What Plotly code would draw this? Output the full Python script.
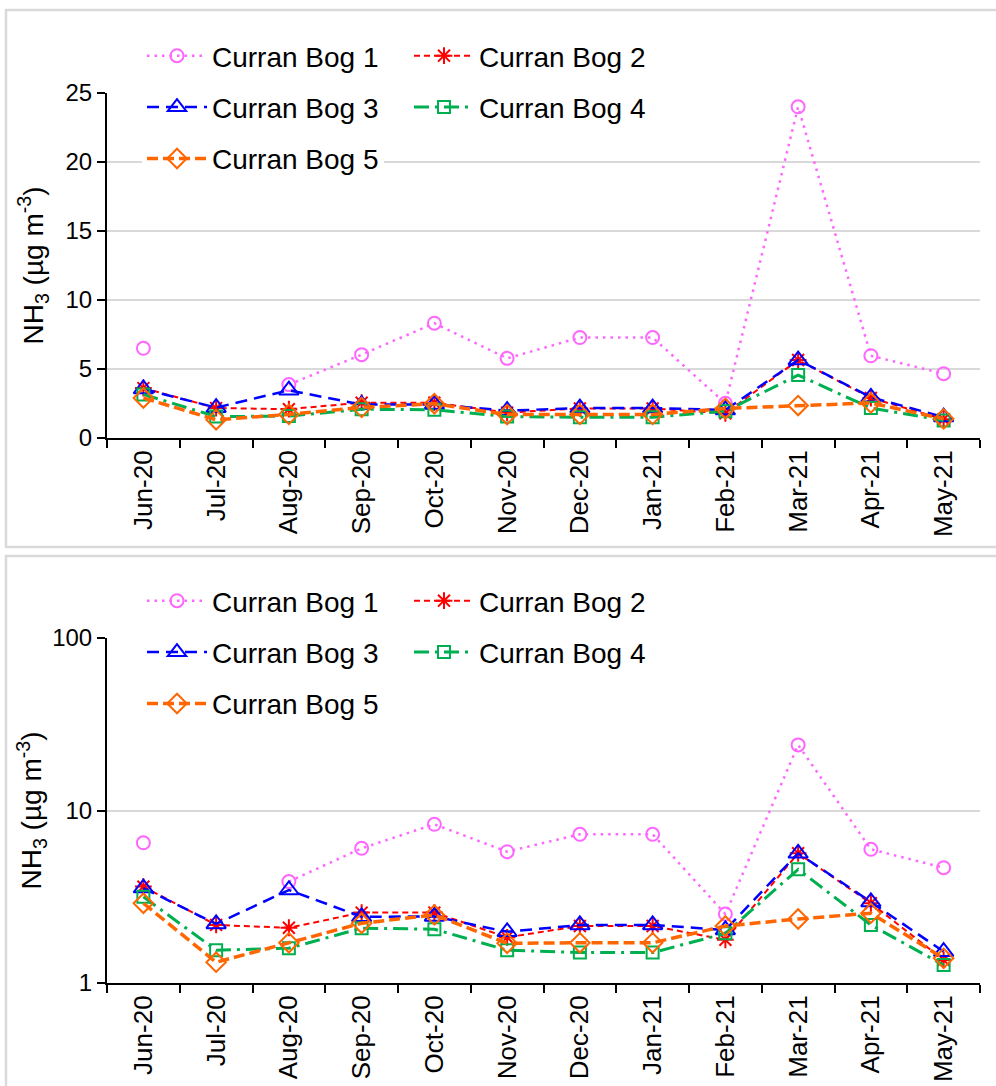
import plotly.graph_objects as go

# ---------------- data ----------------
months = ["Jun-20", "Jul-20", "Aug-20", "Sep-20", "Oct-20", "Nov-20",
          "Dec-20", "Jan-21", "Feb-21", "Mar-21", "Apr-21", "May-21"]
bog1 = [6.5, None, 3.87, 6.04, 8.32, 5.77, 7.28, 7.28, 2.51, 24.0, 5.96, 4.66]
bog2 = [3.62, 2.17, 2.09, 2.56, 2.56, 1.84, 2.14, 2.14, 1.78, 5.65, 2.90, 1.36]
bog3 = [3.55, 2.20, 3.46, 2.42, 2.43, 1.98, 2.17, 2.17, 2.03, 5.65, 2.95, 1.52]
bog4 = [3.16, 1.55, 1.59, 2.08, 2.05, 1.55, 1.50, 1.50, 1.94, 4.56, 2.17, 1.27]
bog5 = [2.90, 1.32, 1.71, 2.22, 2.48, 1.70, 1.71, 1.71, 2.14, 2.35, 2.54, 1.39]
names = ["Curran Bog 1", "Curran Bog 2", "Curran Bog 3", "Curran Bog 4", "Curran Bog 5"]
series = [bog1, bog2, bog3, bog4, bog5]
lin_ticks = [0, 5, 10, 15, 20, 25]
log_ticks = [1, 10, 100]

# ---------------- styles ----------------
styles = [
    dict(color="#FF66FF", dash="2.5px,5px", width=2.5, symbol="circle-open", size=13),
    dict(color="#FF0000", dash="6px,4px", width=2, symbol="asterisk-open", size=14),
    dict(color="#0000FF", dash="12px,7px", width=2.5, symbol="triangle-up-open", size=17),
    dict(color="#00B050", dash="15px,6px,3px,6px", width=3, symbol="square-open", size=12),
    dict(color="#FF6600", dash="11px,5px", width=3.5, symbol="diamond-open", size=15),
]
FONT = "Liberation Sans, Arial, sans-serif"
W, H = 996, 1086

fig = go.Figure()
col_of = [0, 1, 0, 1, 0]
for panel, (xa, ya, legs) in enumerate([("x", "y", ("legend", "legend2")),
                                        ("x2", "y2", ("legend3", "legend4"))]):
    for i, (nm, vals, st) in enumerate(zip(names, series, styles)):
        fig.add_trace(go.Scatter(
            x=months, y=vals, name=nm, mode="lines+markers",
            xaxis=xa, yaxis=ya, legend=legs[col_of[i]],
            legendgroup=f"p{panel}s{i}", connectgaps=False,
            line=dict(color=st["color"], dash=st["dash"], width=st["width"]),
            marker=dict(symbol=st["symbol"], size=st["size"], color=st["color"],
                        line=dict(color=st["color"], width=2)),
        ))

xdom = [107 / W, 980 / W]
def py(p):
    return 1 - p / H

axis_common = dict(showline=True, linecolor="black", linewidth=2,
                   ticks="outside", ticklen=8, tickwidth=2, tickcolor="black",
                   automargin=False, zeroline=False)
xcommon = dict(axis_common, type="category", tickson="boundaries", showgrid=False,
               tickangle=-90, tickfont=dict(size=26, color="black", family=FONT),
               categoryorder="array", categoryarray=months,
               range=[-0.5, len(months) - 0.5], autorange=False)
ycommon = dict(axis_common, showgrid=True, gridcolor="#D9D9D9", gridwidth=2,
               tickfont=dict(size=24, color="black", family=FONT))
ytitle = "NH<sub>3</sub> (µg m<sup>-3</sup>)"

legend_common = dict(font=dict(size=28, color="black", family=FONT),
                     bgcolor="white", borderwidth=0, orientation="v",
                     itemwidth=60, tracegroupgap=12, xanchor="left", yanchor="top",
                     itemclick=False, itemdoubleclick=False)

fig.update_layout(
    width=W, height=H, autosize=False,
    margin=dict(l=0, r=0, t=0, b=0),
    paper_bgcolor="white", plot_bgcolor="white",
    font=dict(family=FONT, color="black"),
    showlegend=True,
    xaxis=dict(xcommon, domain=xdom, anchor="y"),
    yaxis=dict(ycommon, domain=[py(438), py(93)], anchor="x", range=[0, 25],
               tickvals=lin_ticks,
               title=dict(text=ytitle, font=dict(size=28, family=FONT), standoff=14)),
    xaxis2=dict(xcommon, domain=xdom, anchor="y2"),
    yaxis2=dict(ycommon, domain=[py(983), py(638)], anchor="x2", type="log",
                range=[0, 2], tickvals=log_ticks, ticktext=[str(t) for t in log_ticks],
                title=dict(text=ytitle, font=dict(size=28, family=FONT), standoff=2)),
    legend=dict(legend_common, x=142 / W, y=py(31)),
    legend2=dict(legend_common, x=409 / W, y=py(31)),
    legend3=dict(legend_common, x=142 / W, y=py(576)),
    legend4=dict(legend_common, x=409 / W, y=py(576)),
    shapes=[
        dict(type="rect", xref="paper", yref="paper", x0=6 / W, x1=1.02,
             y0=py(547), y1=py(10), line=dict(color="#D9D9D9", width=2.5),
             fillcolor="rgba(0,0,0,0)", layer="below"),
        dict(type="rect", xref="paper", yref="paper", x0=6 / W, x1=1.02,
             y0=-0.02, y1=py(556), line=dict(color="#D9D9D9", width=2.5),
             fillcolor="rgba(0,0,0,0)", layer="below"),
    ],
)

post = ("document.body.style.margin='0px';"
        "document.body.style.padding='0px';"
        "document.body.style.overflow='hidden';"
        "document.documentElement.style.overflow='hidden';")

fig.write_html("out.html", post_script=post,
               config={"responsive": False, "displayModeBar": False})
